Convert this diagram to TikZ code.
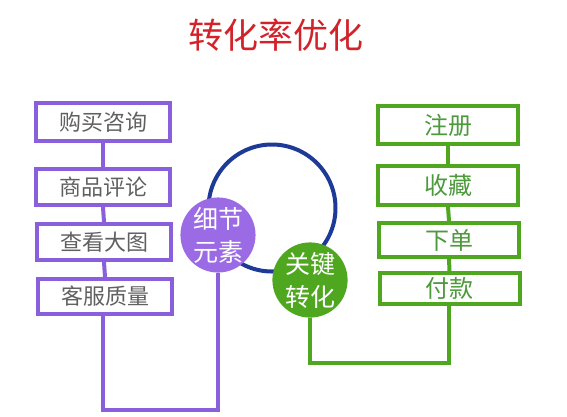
\documentclass[tikz,border=0pt]{standalone}
\usepackage{fontspec}
\setmainfont{Noto Sans CJK SC}
\newfontfamily\cjk{Noto Sans CJK SC}
\definecolor{purp}{HTML}{8A5FDC}
\definecolor{purpfill}{HTML}{9B6BE6}
\definecolor{grn}{HTML}{4FA61F}
\definecolor{grntxt}{HTML}{4C9A3C}
\definecolor{blu}{HTML}{1E3A99}
\definecolor{ttl}{HTML}{D2232A}
\definecolor{gtxt}{HTML}{606060}
\begin{document}
\begin{tikzpicture}[x=1pt,y=-1pt,
  lbox/.style={draw=purp,line width=4pt,minimum width=134pt,minimum height=36pt,inner sep=0pt,fill=white,text=gtxt,font=\cjk\fontsize{22}{24}\selectfont},
  rbox/.style={draw=grn,line width=4pt,minimum width=140pt,minimum height=35pt,inner sep=0pt,fill=white,text=grntxt,font=\cjk\fontsize{24}{26}\selectfont},
  pline/.style={draw=purp,line width=4pt},
  gline/.style={draw=grn,line width=4pt},
  bubble/.style={circle,minimum size=74pt,inner sep=0pt,text=white,align=center,font=\cjk\fontsize{25}{33}\selectfont}]
\useasboundingbox (0,0) rectangle (567,416);
\fill[white] (0,0) rectangle (567,416);
% title
\node[text=ttl,font=\cjk\fontsize{35}{38}\selectfont] (title) at (276,35) {转化率优化};
% blue ring
\node[circle,draw=blu,line width=4pt,minimum size=127pt,inner sep=0pt] (ring) at (272,208) {};
% left boxes
\node[lbox,minimum height=38pt] (b1) at (103,122) {购买咨询};
\node[lbox] (b2) at (103,187) {商品评论};
\node[lbox] (b3) at (104,242) {查看大图};
\node[lbox,minimum height=35pt] (b4) at (105,296.5) {客服质量};
% right boxes
\node[rbox,minimum height=38pt] (g1) at (448,125) {注册};
\node[rbox,minimum height=39pt] (g2) at (448,185.5) {收藏};
\node[rbox,minimum height=34pt] (g3) at (449,240) {下单};
\node[rbox,minimum height=31pt] (g4) at (449.5,288.5) {付款};
% bubbles
\node[bubble,fill=purpfill] (p) at (218,235) {细节\\元素};
\node[bubble,fill=grn] (gc) at (310,280) {关键\\转化};
% connectors
\coordinate (lc) at (103,410);
\coordinate (rc) at (449,363);
\draw[pline] (b1.south) -- (b2.north);
\draw[pline] (b2.south) -- (b3.north);
\draw[pline] (b3.south) -- (b4.north);
\draw[pline,line join=miter] (b4.south -| lc) -- (lc) -| (p.south);
\draw[gline] (g1.south) -- (g2.north);
\draw[gline] (g2.south) -- (g3.north);
\draw[gline] (g3.south) -- (g4.north);
\draw[gline,line join=miter] (g4.south -| rc) -- (rc) -| (gc.south);
\end{tikzpicture}
\end{document}
